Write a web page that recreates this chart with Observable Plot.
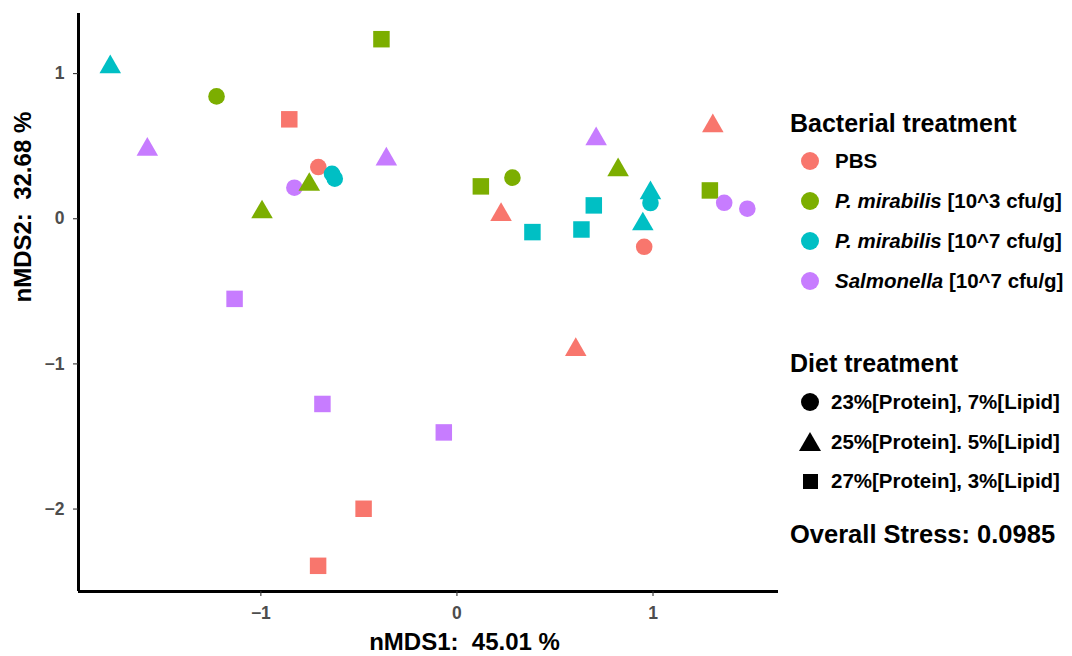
<!DOCTYPE html>
<html>
<head>
<meta charset="utf-8">
<script src="https://cdn.jsdelivr.net/npm/d3@7"></script>
<script src="https://cdn.jsdelivr.net/npm/@observablehq/plot@0.6"></script>
<style>
  html, body { margin: 0; padding: 0; background: #fff; }
  #wrap { position: relative; width: 1072px; height: 656px; font-family: "Liberation Sans", Arial, Helvetica, sans-serif; }
  #wrap svg { font-family: "Liberation Sans", Arial, Helvetica, sans-serif; }
  .lg-title { position: absolute; left: 790px; font-weight: bold; font-size: 25px; color: #000; white-space: nowrap; line-height: 30px; height: 30px; }
  .lg-row { position: absolute; left: 0; width: 1072px; height: 40px; display: flex; align-items: center; }
  .lg-text { position: absolute; font-weight: bold; font-size: 20.5px; color: #000; white-space: nowrap; line-height: 40px; }
  .sw { position: absolute; }
</style>
</head>
<body>
<div id="wrap"></div>
<script>
// ---- data ----
const bacteria = ["PBS", "P. mirabilis [10^3 cfu/g]", "P. mirabilis [10^7 cfu/g]", "Salmonella [10^7 cfu/g]"];
const bacteriaItalic = ["", "P. mirabilis", "P. mirabilis", "Salmonella"];
const bacteriaRest = ["PBS", " [10^3 cfu/g]", " [10^7 cfu/g]", " [10^7 cfu/g]"];
const bacteriaColors = ["#F8766D", "#7CAE00", "#00BFC4", "#C77CFF"];
const diets = ["23%[Protein], 7%[Lipid]", "25%[Protein]. 5%[Lipid]", "27%[Protein], 3%[Lipid]"];
const dietSymbols = ["circle", "triangle", "square"];
const dietRadius = [8.3, 8, 9.3];

const sampleBacteria = [0,0,0,0,0,0,0,0, 1,1,1,1,1,1,1,1, 2,2,2,2,2,2,2,2,2, 3,3,3,3,3,3,3,3,3];
const sampleDiet = [2,0,1,1,0,1,2,2, 2,0,1,1,2,0,1,2, 1,0,0,2,2,2,1,0,1, 1,0,1,2,2,2,1,0,0];
const nmds1 = [-0.855,-0.707,0.225,1.305,0.955,0.606,-0.476,-0.708,
               -0.385,-1.226,-0.994,-0.753,0.122,0.283,0.822,1.290,
               -1.768,-0.637,-0.623,0.385,0.635,0.698,0.987,0.987,0.948,
               -1.579,-0.829,-0.360,-1.134,-0.686,-0.067,0.710,1.363,1.481];
const nmds2 = [0.685,0.356,0.028,0.639,-0.193,-0.902,-1.998,-2.391,
               1.237,0.843,0.046,0.235,0.223,0.283,0.336,0.195,
               1.046,0.310,0.276,-0.092,-0.074,0.092,0.177,0.108,-0.037,
               0.477,0.214,0.410,-0.552,-1.276,-1.472,0.549,0.110,0.069];
const xTicks = [-1, 0, 1];
const yTicks = [-2, -1, 0, 1];
const xDomain = [-1.93, 1.64];
const yDomain = [-2.568, 1.414];
const xTitle = "nMDS1:  45.01 %";
const yTitle = "nMDS2:  32.68 %";
const stressText = "Overall Stress: 0.0985";

const points = nmds1.map((x, i) => ({
  x, y: nmds2[i],
  bacteria: bacteria[sampleBacteria[i]],
  diet: diets[sampleDiet[i]],
  r: dietRadius[sampleDiet[i]]
}));

const fmt = d3.format("d");
const tickLabelStyle = { fontSize: 17.5, fontWeight: "bold", fill: "#4d4d4d" };

const plot = Plot.plot({
  width: 1072,
  height: 656,
  marginLeft: 78,
  marginRight: 294,
  marginTop: 13,
  marginBottom: 65,
  style: { fontFamily: '"Liberation Sans", Arial, Helvetica, sans-serif', background: "#fff" },
  x: { domain: xDomain, label: null },
  y: { domain: yDomain, label: null },
  color: { domain: bacteria, range: bacteriaColors },
  symbol: { domain: diets, range: dietSymbols },
  r: { type: "identity" },
  marks: [
    Plot.dot(points, { x: "x", y: "y", fill: "bacteria", symbol: "diet", r: "r", stroke: null }),
    Plot.ruleX([xDomain[0]], { stroke: "#000", strokeWidth: 3 }),
    Plot.ruleY([yDomain[0]], { stroke: "#000", strokeWidth: 3 }),
    Plot.axisX({ ticks: xTicks, tickFormat: () => "", tickSize: 5, tickPadding: 10, stroke: "#333", strokeWidth: 1.1, label: null }),
    Plot.axisY({ ticks: yTicks, tickFormat: () => "", tickSize: 5, tickPadding: 8, stroke: "#333", strokeWidth: 1.1, label: null }),
    Plot.text(xTicks, { x: d => d, frameAnchor: "bottom", lineAnchor: "top", dy: 15.5, text: fmt, ...tickLabelStyle }),
    Plot.text(yTicks, { y: d => d, frameAnchor: "left", textAnchor: "end", dx: -14, text: fmt, ...tickLabelStyle }),
    Plot.text([xTitle], { frameAnchor: "bottom", lineAnchor: "bottom", dx: 36, dy: 58, fontSize: 24, fontWeight: "bold", fill: "#000" }),
    Plot.text([yTitle], { frameAnchor: "left", rotate: -90, dx: -55, fontSize: 24, fontWeight: "bold", fill: "#000" })
  ]
});

const wrap = document.getElementById("wrap");
wrap.appendChild(plot);
plot.querySelectorAll("text").forEach(t => { t.setAttribute("xml:space", "preserve"); t.style.whiteSpace = "pre"; });

function addTitle(text, centerY) {
  const d = document.createElement("div");
  d.className = "lg-title";
  d.style.top = (centerY - 15) + "px";
  d.textContent = text;
  wrap.appendChild(d);
}
function addRow(centerY, swatch, textLeft, italic, rest) {
  const row = document.createElement("div");
  row.className = "lg-row";
  row.style.top = (centerY - 20) + "px";
  row.appendChild(swatch);
  const t = document.createElement("div");
  t.className = "lg-text";
  t.style.left = textLeft + "px";
  t.style.top = "0px";
  if (italic) {
    const i = document.createElement("i");
    i.textContent = italic;
    t.appendChild(i);
  }
  t.appendChild(document.createTextNode(rest));
  row.appendChild(t);
  wrap.appendChild(row);
}
function swatch(shape, color) {
  const s = document.createElement("div");
  s.className = "sw";
  s.style.background = color;
  if (shape === "circle") {
    Object.assign(s.style, { width: "18px", height: "18px", left: "801px", top: "11px", borderRadius: "50%" });
  } else if (shape === "triangle") {
    Object.assign(s.style, { width: "22px", height: "19px", left: "799px", top: "10.5px", clipPath: "polygon(50% 0, 100% 100%, 0 100%)" });
  } else {
    Object.assign(s.style, { width: "15px", height: "15px", left: "802.5px", top: "12.5px" });
  }
  return s;
}

addTitle("Bacterial treatment", 122.5);
const bactY = [161, 201, 241, 281];
bacteria.forEach((b, i) => addRow(bactY[i], swatch("circle", bacteriaColors[i]), 835, bacteriaItalic[i], bacteriaRest[i]));

addTitle("Diet treatment", 363);
const dietY = [401.5, 441.5, 481];
diets.forEach((d, i) => addRow(dietY[i], swatch(dietSymbols[i], "#000"), 831, "", d));

const st = document.createElement("div");
st.className = "lg-title";
st.style.fontSize = "25.5px";
st.style.top = (534 - 15) + "px";
st.textContent = stressText;
wrap.appendChild(st);
</script>
</body>
</html>
